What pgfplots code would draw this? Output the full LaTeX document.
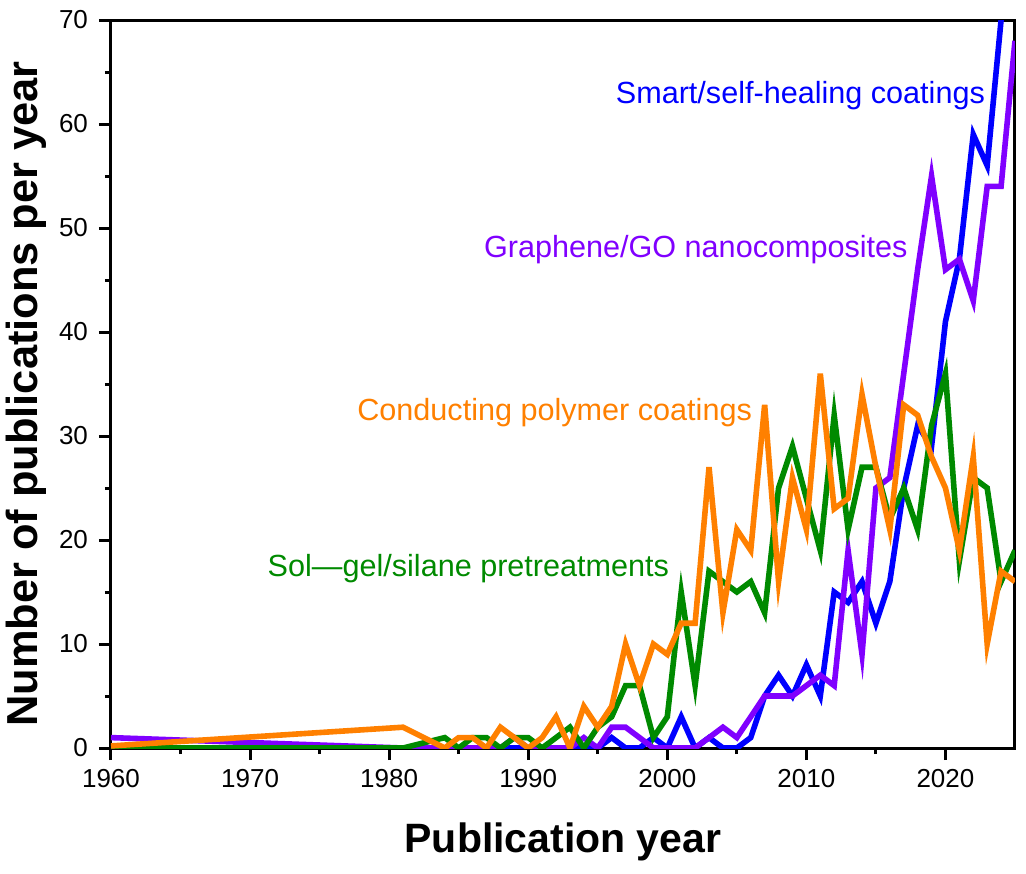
\documentclass[border=0pt]{standalone}
\usepackage{fontspec}
\setmainfont{Liberation Sans}
\usepackage{pgfplots}
\pgfplotsset{compat=1.18}
\definecolor{cblue}{HTML}{0000FF}
\definecolor{cpurple}{HTML}{8000FF}
\definecolor{cgreen}{HTML}{008A00}
\definecolor{corange}{HTML}{FF8000}
\pgfplotsset{every tick label/.append style={font=\fontsize{13}{15}\selectfont}}
\begin{document}
\begin{tikzpicture}
\begin{axis}[
  at={(0,0)}, anchor=south west,
  scale only axis, width=452pt, height=364pt,
  xmin=1960, xmax=2025, ymin=0, ymax=70,
  enlargelimits=false,
  xtick={1960,1970,...,2020}, ytick={0,10,...,70},
  minor x tick num=1, minor y tick num=1,
  tick pos=left, tick align=outside,
  major tick length=6pt, minor tick length=3pt,
  every tick/.style={black, line width=1.5pt},
  axis line style={line width=1.5pt},
  /pgf/number format/assume math mode=true,
  /pgf/number format/1000 sep={},
  xticklabel style={font=\fontsize{13}{15}\selectfont, yshift=-1pt},
  yticklabel style={font=\fontsize{13}{15}\selectfont, xshift=-2pt},
  xlabel={Publication year},
  ylabel={Number of publications per year},
  xlabel style={font=\fontsize{20.5}{24}\selectfont\bfseries, at={(rel axis cs:0.5,0)}, anchor=base, yshift=-52pt},
  ylabel style={font=\fontsize{21.7}{25}\selectfont\bfseries, at={(rel axis cs:0,0.5)}, anchor=base, yshift=36.5pt, xshift=-5pt},
  every axis plot/.append style={line width=2.8pt, mark=none},
  clip=true,
]
% Smart/self-healing coatings
\addplot[cblue] coordinates {
(1981,0) (1995,0) (1996,1) (1997,0) (1998,0) (1999,1) (2000,0) (2001,3) (2002,0) (2003,1) (2004,0) (2005,0) (2006,1)
(2007,5) (2008,7) (2009,5) (2010,8) (2011,5) (2012,15) (2013,14) (2014,16) (2015,12) (2016,16) (2017,25) (2018,31)
(2019,29) (2020,41) (2021,47) (2022,59) (2023,56) (2024,70) (2025,80)
};
% Graphene/GO nanocomposites
\addplot[cpurple] coordinates {
(1960,1) (1981,0) (1988,0) (1989,1) (1990,0) (1993,0) (1994,1) (1995,0) (1996,2) (1997,2) (1998,1) (1999,0) (2002,0)
(2003,1) (2004,2) (2005,1) (2006,3) (2007,5) (2008,5) (2009,5) (2010,6) (2011,7) (2012,6) (2013,19) (2014,9)
(2015,25) (2016,26) (2017,36) (2018,46) (2019,55) (2020,46) (2021,47) (2022,43) (2023,54) (2024,54) (2025,68)
};
% Sol-gel/silane pretreatments
\addplot[cgreen] coordinates {
(1960,0) (1981,0) (1984,1) (1985,0) (1986,1) (1987,1) (1988,0) (1989,1) (1990,1) (1991,0) (1992,1) (1993,2) (1994,0)
(1995,2) (1996,3) (1997,6) (1998,6) (1999,1) (2000,3) (2001,15) (2002,6) (2003,17) (2004,16) (2005,15) (2006,16)
(2007,13) (2008,25) (2009,29) (2010,24) (2011,19) (2012,32) (2013,21) (2014,27) (2015,27) (2016,22) (2017,25)
(2018,21) (2019,31) (2020,36) (2021,18) (2022,26) (2023,25) (2024,16) (2025,19)
};
% Conducting polymer coatings
\addplot[corange] coordinates {
(1960,0.2) (1981,2) (1984,0) (1985,1) (1986,1) (1987,0) (1988,2) (1989,1) (1990,0) (1991,1) (1992,3) (1993,0) (1994,4)
(1995,2) (1996,4) (1997,10) (1998,6) (1999,10) (2000,9) (2001,12) (2002,12) (2003,27) (2004,13) (2005,21) (2006,19)
(2007,33) (2008,16) (2009,26) (2010,21) (2011,36) (2012,23) (2013,24) (2014,34) (2015,27) (2016,21) (2017,33)
(2018,32) (2019,28) (2020,25) (2021,19) (2022,28) (2023,10) (2024,17) (2025,16)
};
\node[anchor=base, text=cblue, font=\fontsize{15.3}{18}\selectfont] at (axis cs:2009.57,62.0) {Smart/self-healing coatings};
\node[anchor=base, text=cpurple, font=\fontsize{15.3}{18}\selectfont] at (axis cs:2002.05,47.2) {Graphene/GO nanocomposites};
\node[anchor=base, text=corange, font=\fontsize{15.3}{18}\selectfont] at (axis cs:1991.9,31.5) {Conducting polymer coatings};
\node[anchor=base, text=cgreen, font=\fontsize{15.3}{18}\selectfont] at (axis cs:1985.7,16.5) {Sol—gel/silane pretreatments};
\end{axis}
\pgfresetboundingbox
\useasboundingbox (-55.5pt,-62.5pt) rectangle (457.5pt,374pt);
\end{tikzpicture}
\end{document}
